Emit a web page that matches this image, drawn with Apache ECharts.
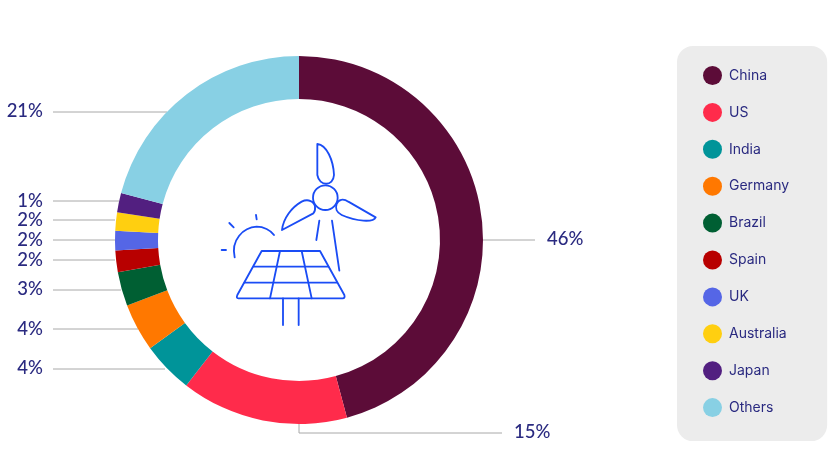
<!DOCTYPE html>
<html><head><meta charset="utf-8">
<style>html,body{margin:0;padding:0;background:#fff}#c{width:840px;height:458px}</style>
<script src="https://cdn.jsdelivr.net/npm/echarts@6/dist/echarts.min.js"></script>
</head><body><div id="c"></div>
<script>
const categories = ['China','US','India','Germany','Brazil','Spain','UK','Australia','Japan','Others'];
const shares = [45.8,14.7,4.5,4.2,3.0,1.9,1.7,1.6,1.7,20.9];
const shareLabels = ['46%','15%','4%','4%','3%','2%','2%','2%','1%','21%'];
const colors = ['#5c0c38','#ff2b4b','#009499','#ff7800','#005f33','#b80000','#5566e6','#ffcf10','#521f80','#88d0e4'];

// leader geometry: [label x, label y, align, points]
const leaders = [
  [547,239,'left',[[483,240],[535,240]]],
  [514,432,'left',[[299,424],[299,433],[502,433]]],
  [43,368,'right',[[165,369],[53,369]]],
  [43,329,'right',[[138,329],[53,329]]],
  [43,289,'right',[[121,290],[53,290]]],
  [43,260,'right',[[115,260],[53,260]]],
  [43,240,'right',[[115,240],[53,240]]],
  [43,220,'right',[[115,220],[53,220]]],
  [43,201,'right',[[119,201],[53,201]]],
  [43,111,'right',[[167,112],[53,112]]]
];

const ink = '#1a4cf5';
const iconPaths = [
  'M352,42 C380,45 400,90 402,135 C400,170 358,170 352,135 Z',
  'M410,222 C415,208 430,205 445,215 L527,262 C520,278 470,275 425,255 C410,248 405,235 410,222 Z',
  'M345,230 C343,215 325,205 305,215 C275,232 250,265 246,300 L340,250 C345,245 346,238 345,230 Z',
  'M358,272 L349,330','M396,272 L418,422',
  'M104,382 C92,330 130,292 170,290 C190,290 212,300 222,315',
  'M168,255 L170,268','M88,279 L101,292','M65,360 L78,360',
  'M185,363 L360,363 L433,495 Q436,505 428,505 L115,505 Q108,505 112,495 Z',
  'M162,410 L385,410','M134,458 L410,458',
  'M240,363 L210,505','M305,363 L335,505',
  'M249,505 L249,585','M296,505 L296,585'
];
iconPaths.forEach((p,i)=>echarts.graphic.registerShape('icon'+i, echarts.graphic.extendPath(p,{})));
const iconStyle = {stroke:ink, fill:'none', lineWidth:5.5, lineCap:'round', lineJoin:'round'};

const chart = echarts.init(document.getElementById('c'), null, {renderer:'canvas'});
chart.setOption({
  backgroundColor:'#fff',
  animation:false,
  color:colors,
  legend:{
    orient:'vertical', left:677, top:46, icon:'circle',
    itemWidth:19, itemHeight:19, itemGap:17.9,
    padding:[20,38,24,26],
    backgroundColor:'#ececec', borderRadius:16,
    selectedMode:false,
    data:categories,
    textStyle:{fontFamily:'Inter', fontSize:14, color:'#2a2a80', padding:[0,0,0,2]}
  },
  graphic:[{
    type:'group', x:200, y:130, scaleX:1/3, scaleY:1/3, silent:true,
    children:[
      ...iconPaths.map((p,i)=>({type:'icon'+i, shape:{}, style:iconStyle})),
      {type:'circle', shape:{cx:376,cy:203,r:37}, style:iconStyle}
    ]
  }],
  series:[{
    type:'pie', center:[299,240], radius:[141,184], startAngle:90, clockwise:true,
    silent:true,
    data:categories.map((n,i)=>({name:n, value:shares[i]})),
    label:{
      show:true, position:'outer', formatter:p=>shareLabels[p.dataIndex],
      fontFamily:'Lato', fontSize:18.5, fontWeight:500, color:'#2a2a80'
    },
    labelLine:{show:true, lineStyle:{color:'#a8a8a8', width:1}},
    labelLayout:p=>{
      const l = leaders[p.dataIndex];
      return {x:l[0], y:l[1], align:l[2], verticalAlign:'middle', labelLinePoints:l[3]};
    }
  }]
});
</script></body></html>
